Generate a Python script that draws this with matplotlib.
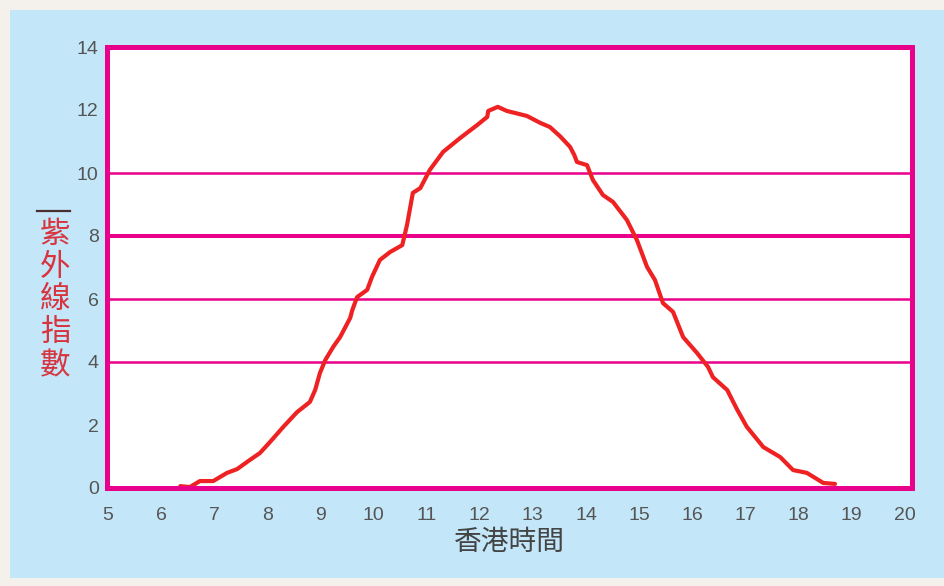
import matplotlib.pyplot as plt
from matplotlib.patches import Rectangle
from matplotlib.lines import Line2D

# UV index over Hong Kong time
hour = [6.36, 6.54, 6.73, 6.98, 7.24, 7.43, 7.67, 7.86, 8.05, 8.30, 8.56, 8.80,
        8.90, 8.99, 9.09, 9.24, 9.37, 9.56, 9.60, 9.69, 9.88, 9.97, 10.12, 10.31,
        10.54, 10.63, 10.74, 10.88, 11.06, 11.31, 11.63, 11.95, 12.14, 12.16,
        12.34, 12.51, 12.89, 13.14, 13.32, 13.51, 13.70, 13.78, 13.83, 14.02,
        14.13, 14.32, 14.51, 14.77, 14.96, 15.15, 15.30, 15.45, 15.64, 15.83,
        16.09, 16.30, 16.39, 16.66, 16.85, 17.03, 17.34, 17.66, 17.90, 18.16,
        18.47, 18.69]
uv = [0.06, 0.03, 0.22, 0.22, 0.48, 0.60, 0.89, 1.11, 1.46, 1.94, 2.41, 2.73,
      3.11, 3.65, 4.06, 4.48, 4.79, 5.40, 5.65, 6.06, 6.29, 6.70, 7.24, 7.49,
      7.71, 8.35, 9.37, 9.52, 10.10, 10.67, 11.11, 11.52, 11.78, 11.97,
      12.10, 11.97, 11.81, 11.59, 11.46, 11.17, 10.83, 10.57, 10.35, 10.25,
      9.78, 9.30, 9.08, 8.51, 7.87, 7.02, 6.60, 5.87, 5.59, 4.79,
      4.29, 3.84, 3.52, 3.11, 2.48, 1.94, 1.30, 0.98, 0.57, 0.48,
      0.16, 0.13]

x_ticks = list(range(5, 21))
y_ticks = list(range(0, 15, 2))
grid_levels = [4, 6, 8, 10]

magenta = '#e9008b'
blue = '#c3e7f9'

fig = plt.figure(figsize=(9.44, 5.86), dpi=100)
fig.patch.set_facecolor('#f4f1ec')
fig.patches.append(Rectangle((10/944, 1-578/586), 934/944, 568/586,
                             transform=fig.transFigure, facecolor=blue,
                             edgecolor='none', zorder=-5))

ax = fig.add_axes([107/944, 1-488/586, 805/944, 441/586])
ax.set_zorder(2)
ax.set_facecolor('white')

for lv in grid_levels:
    ax.axhline(lv, color=magenta, lw=2.9 if lv == 8 else 1.8, zorder=1)

ax.plot(hour, uv, color='#ee2222', lw=3.0, solid_capstyle='round', zorder=3)

ax.set_xlim(4.98, 20.14)
ax.set_ylim(0, 14)
ax.set_xticks(x_ticks)
ax.set_yticks(y_ticks)
tick_font = ['Liberation Sans', 'DejaVu Sans']
ax.set_xticklabels([str(v) for v in x_ticks], family=tick_font, fontsize=14, color='#555555')
ax.set_yticklabels([str(v) for v in y_ticks], family=tick_font, fontsize=14, color='#555555')
ax.tick_params(axis='x', length=0, pad=14)
ax.tick_params(axis='y', length=0, pad=6)
for s in ax.spines.values():
    s.set_color(magenta)
    s.set_linewidth(3.6)
    s.set_zorder(4)

ax.set_xlabel('香港時間', family=['Noto Sans CJK TC', 'DejaVu Sans'],
              fontsize=20, color='#444444', labelpad=2)

fig.text(55/944, 1-300/586, '紫\n外\n線\n指\n數', family=['Noto Sans CJK TC', 'DejaVu Sans'],
         fontsize=22, color='#d8343f', ha='center', va='center', linespacing=1.08)
fig.add_artist(Line2D([37/944, 70/944], [1-211/586, 1-211/586], transform=fig.transFigure,
                      color='#4a3030', lw=1.6))

fig.savefig('out.png', dpi=100, facecolor=fig.get_facecolor())
